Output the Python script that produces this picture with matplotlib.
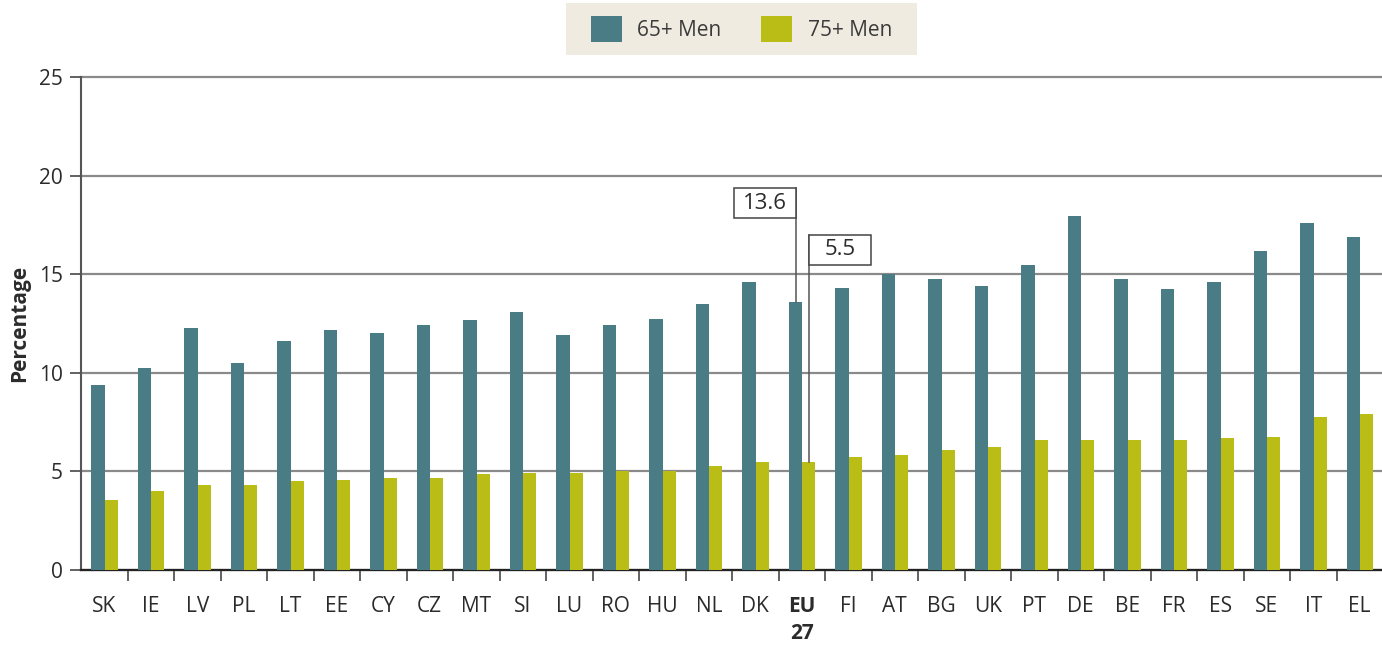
import matplotlib
matplotlib.use("Agg")
import matplotlib.pyplot as plt
from matplotlib.patches import Rectangle, Patch
import numpy as np

plt.rcParams['font.family'] = ['Open Sans', 'DejaVu Sans']

countries = ["SK", "IE", "LV", "PL", "LT", "EE", "CY", "CZ", "MT", "SI", "LU", "RO", "HU", "NL",
             "DK", "EU\n27", "FI", "AT", "BG", "UK", "PT", "DE", "BE", "FR", "ES", "SE", "IT", "EL"]
men_65 = [9.4, 10.25, 12.25, 10.5, 11.6, 12.15, 12.0, 12.4, 12.7, 13.1, 11.9, 12.4, 12.75, 13.5,
          14.6, 13.6, 14.3, 15.0, 14.75, 14.4, 15.45, 17.95, 14.75, 14.25, 14.6, 16.2, 17.6, 16.9]
men_75 = [3.55, 4.0, 4.3, 4.3, 4.5, 4.55, 4.65, 4.65, 4.85, 4.9, 4.9, 5.0, 5.0, 5.25,
          5.5, 5.5, 5.75, 5.85, 6.1, 6.25, 6.6, 6.6, 6.6, 6.6, 6.7, 6.75, 7.75, 7.9]
series_names = ["65+ Men", "75+ Men"]
highlight = "EU\n27"

C65 = "#4A7C86"
C75 = "#B9BD15"
TXT = "#2b2b2b"
FS = 15

fig = plt.figure(figsize=(13.82, 6.46), dpi=100)
ax = fig.add_axes([81/1382, 76/646, 1302/1382, 493/646])

x = np.arange(len(countries))
w = 0.285
ax.bar(x - w/2 + 0.01, men_65, width=w, color=C65, zorder=3, linewidth=0)
ax.bar(x + w/2 + 0.01, men_75, width=w, color=C75, zorder=3, linewidth=0)

ax.set_xlim(-0.5, len(countries) - 0.5)
ax.set_ylim(0, 25)
ax.set_yticks([0, 5, 10, 15, 20, 25])
ax.yaxis.grid(True, color="#8a8a8a", linewidth=1.6, zorder=0)
ax.set_axisbelow(True)
for ln in ax.get_ygridlines():
    ln.set_clip_on(False)

ax.set_xticks(x)
ax.set_xticklabels(countries, fontsize=FS, color=TXT, linespacing=1.35)
ax.set_xticks(np.arange(0.5, len(countries) - 1, 1.0), minor=True)
ax.tick_params(axis='x', which='major', length=0, pad=19)
ax.tick_params(axis='x', which='minor', length=8, width=1.3, color="#555555")
ax.tick_params(axis='y', length=8, width=1.3, color="#555555", labelsize=FS, labelcolor=TXT, pad=5)
for lbl in ax.get_xticklabels():
    if lbl.get_text() == highlight:
        lbl.set_fontweight('bold')

for s in ["top", "right"]:
    ax.spines[s].set_visible(False)
ax.spines["left"].set_color("#555555")
ax.spines["left"].set_linewidth(1.5)
ax.spines["bottom"].set_color("#222222")
ax.spines["bottom"].set_linewidth(1.6)

ax.set_ylabel("Percentage", fontsize=FS, fontweight='bold', color=TXT, labelpad=6)

# Annotations for EU 27
ie = countries.index(highlight)
bw = 1.333
bh = 1.52
xa = ie - w/2 + 0.01
ya_c = 18.6
ax.add_patch(Rectangle((xa - bw, ya_c - bh/2), bw, bh, facecolor="white", edgecolor="#444444",
                       linewidth=1.1, zorder=5))
ax.text(xa - bw/2, ya_c, f"{men_65[ie]:.1f}", ha='center', va='center', fontsize=16, color=TXT, zorder=6)
ax.plot([xa, xa], [men_65[ie], ya_c + bh/2], color="#555555", linewidth=1.1, zorder=4)

xb = ie + w/2 + 0.01
yb_c = 16.23
ax.add_patch(Rectangle((xb, yb_c - bh/2), bw, bh, facecolor="white", edgecolor="#444444",
                       linewidth=1.1, zorder=5))
ax.text(xb + bw/2, yb_c, f"{men_75[ie]:.1f}", ha='center', va='center', fontsize=16, color=TXT, zorder=6)
ax.plot([xb, xb], [men_75[ie], yb_c + bh/2], color="#555555", linewidth=1.1, zorder=4)

# Legend
fig.patches.append(Rectangle((566/1382, 1 - 55/646), 351/1382, 52/646, transform=fig.transFigure,
                             facecolor="#EFEBE1", edgecolor="none", zorder=0))
handles = [Patch(facecolor=C65, edgecolor='none'), Patch(facecolor=C75, edgecolor='none')]
fig.legend(handles, series_names, loc='center', bbox_to_anchor=(741.5/1382, 1 - 29/646),
           ncol=2, frameon=False, fontsize=FS, handlelength=1.5, handleheight=1.5,
           handletextpad=0.75, columnspacing=1.9, labelcolor="#3a3a3a")

fig.savefig("out.png", dpi=100)
